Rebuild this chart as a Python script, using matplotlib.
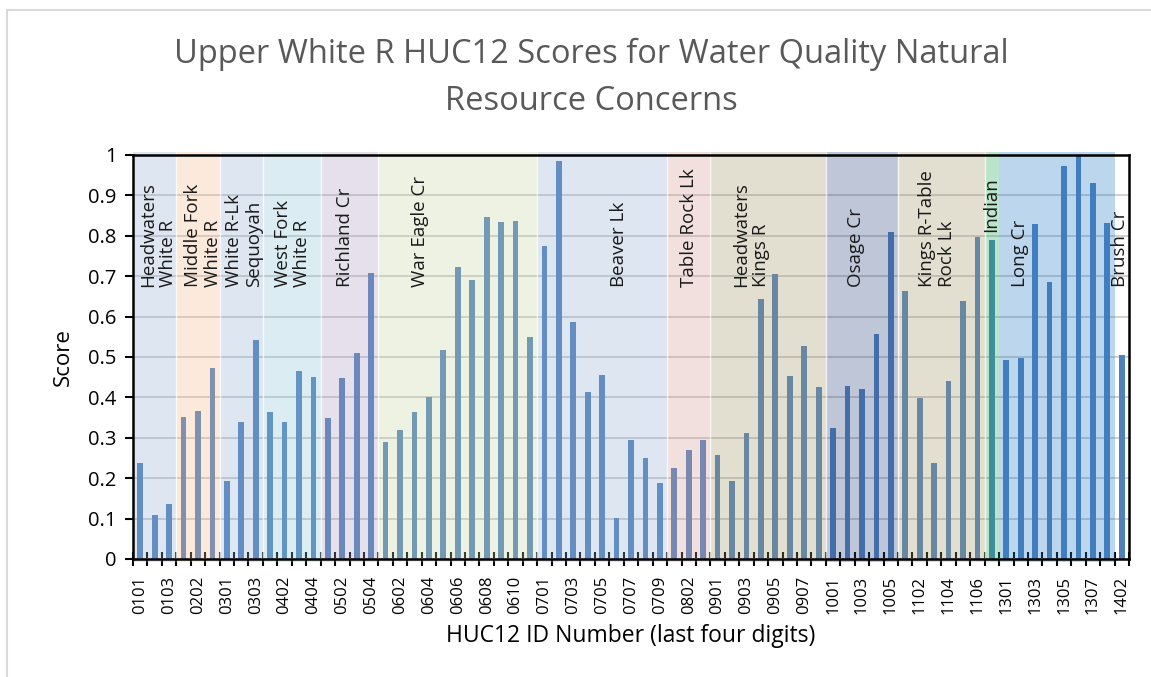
import matplotlib
matplotlib.use("Agg")
import matplotlib.pyplot as plt
import numpy as np
from matplotlib.patches import Rectangle
from matplotlib.colors import to_rgb

# ---------------- data ----------------
huc_ids = ["0101", "0102", "0103",
           "0201", "0202", "0203",
           "0301", "0302", "0303",
           "0401", "0402", "0403", "0404",
           "0501", "0502", "0503", "0504",
           "0601", "0602", "0603", "0604", "0605", "0606", "0607", "0608", "0609", "0610", "0611",
           "0701", "0702", "0703", "0704", "0705", "0706", "0707", "0708", "0709",
           "0801", "0802", "0803",
           "0901", "0902", "0903", "0904", "0905", "0906", "0907", "0908",
           "1001", "1002", "1003", "1004", "1005",
           "1101", "1102", "1103", "1104", "1105", "1106",
           "1201",
           "1301", "1302", "1303", "1304", "1305", "1306", "1307",
           "1401", "1402"]

scores = [0.237, 0.109, 0.136,
          0.352, 0.366, 0.472,
          0.193, 0.338, 0.541,
          0.363, 0.338, 0.465, 0.450,
          0.350, 0.448, 0.510, 0.708,
          0.290, 0.320, 0.365, 0.400, 0.517, 0.724, 0.691, 0.847, 0.835, 0.837, 0.550,
          0.774, 0.984, 0.587, 0.413, 0.455, 0.101, 0.294, 0.251, 0.188,
          0.226, 0.269, 0.295,
          0.257, 0.193, 0.312, 0.644, 0.706, 0.454, 0.527, 0.425,
          0.325, 0.427, 0.420, 0.557, 0.810,
          0.663, 0.399, 0.238, 0.441, 0.639, 0.798,
          0.789,
          0.493, 0.498, 0.828, 0.686, 0.974, 1.000, 0.930,
          0.832, 0.505]

group_names = ["Headwaters\nWhite R", "Middle Fork\nWhite R", "White R-Lk\nSequoyah",
               "West Fork\nWhite R", "Richland Cr", "War Eagle Cr", "Beaver Lk",
               "Table Rock Lk", "Headwaters\nKings R", "Osage Cr",
               "Kings R-Table\nRock Lk", "Indian", "Long Cr", "Brush Cr"]
group_sizes = [3, 3, 3, 4, 4, 11, 9, 3, 8, 5, 6, 1, 7, 2]

# ---------------- style ----------------
# visible background tint of each group's band (None = no band)
band_tints = ["#DFE7F2", "#FCEADC", "#DFE7F2", "#DCEEF3", "#E6E1EC", "#EEF2E3",
              "#DFE7F2", "#F3E1E0", "#E3E0D2", "#BFC7D8", "#E3E0D2", "#BCE6CB",
              "#BDD7EE", None]
band_extra = [0, 0, 0, 0, 0, 0, 0, 0, 0, 0, 0, 0, 1, 0]   # Long Cr band also covers 1401
label_x = [1.23, 4.34, 7.18, 10.56, 14.16, 19.35, 33.18, 38.02, 42.3, 49.6,
           55.2, 58.97, 60.98, 67.9]
label_y = [0.673] * 14
label_va = ["bottom"] * 14
label_y[11] = 0.945
label_va[11] = "top"

bar_color = "#4F81BD"
alpha = 0.30
FONT = "Open Sans"

plt.rcParams["font.family"] = [FONT, "DejaVu Sans"]

fig = plt.figure(figsize=(11.51, 6.77), dpi=100)
W, H = 1151, 677
# chart area frame
fig.patches.append(Rectangle((7 / W, -0.2), 1.5, 1.2 - 10 / H, transform=fig.transFigure,
                             fill=False, edgecolor="#D9D9D9", linewidth=1.5, zorder=0))

ax = fig.add_axes([133 / W, 1 - 559 / H, (1129 - 133) / W, (559 - 155) / H])
x = np.arange(len(huc_ids))

ax.set_axisbelow(True)
ax.yaxis.grid(True, color="#D0D0D0", linewidth=1.4, zorder=0)
ax.bar(x, scores, width=0.4, color=bar_color, zorder=2)

# translucent bands over the bars, with thin white gaps between them
start = 0
for i, (size, tint, extra) in enumerate(zip(group_sizes, band_tints, band_extra)):
    if tint is not None:
        rgb = np.array(to_rgb(tint))
        ov = np.clip((rgb - (1 - alpha)) / alpha, 0, 1)
        ax.add_patch(Rectangle((start - 0.5, -0.008), size + extra, 1.016,
                               facecolor=ov, alpha=alpha, edgecolor="none",
                               zorder=3, clip_on=False))
        if 0 < i < len(group_sizes) - 2:
            ax.plot([start - 0.5, start - 0.5], [0.003, 1.008], color="white",
                    linewidth=1.0, alpha=0.75, zorder=3.5, clip_on=False,
                    solid_capstyle="butt")
    start += size

for name, lx, ly, va in zip(group_names, label_x, label_y, label_va):
    ax.text(lx, ly, name, rotation=90, ha="center", va=va, fontsize=13.5,
            color="#1a1a1a", linespacing=1.12, multialignment="left", zorder=5)

ax.set_xlim(-0.5, len(huc_ids) - 0.5)
ax.set_ylim(0, 1)
ax.set_yticks(np.arange(0, 1.01, 0.1))
ax.set_yticklabels(["0", "0.1", "0.2", "0.3", "0.4", "0.5", "0.6", "0.7", "0.8", "0.9", "1"])
ax.set_xticks(x[::2])
ax.set_xticklabels(huc_ids[::2], rotation=90)
ax.set_xticks(np.arange(-0.5, len(huc_ids), 1.0), minor=True)
ax.tick_params(axis="x", which="major", length=0, pad=12, labelsize=12)
ax.tick_params(axis="x", which="minor", length=10, width=1.5, direction="inout", color="black")
ax.tick_params(axis="y", which="major", length=6, width=1.5, direction="out", labelsize=14.5, pad=6)

for s in ax.spines.values():
    s.set_color("black")
    s.set_linewidth(1.8)
    s.set_zorder(6)

ax.set_ylabel("Score", fontsize=16, labelpad=10)
ax.set_xlabel("HUC12 ID Number (last four digits)", fontsize=16.5, labelpad=7)

fig.text(591 / W, 1 - 54 / H, "Upper White R HUC12 Scores for Water Quality Natural",
         ha="center", va="center", fontsize=23.5, color="#595959")
fig.text(591 / W, 1 - 102 / H, "Resource Concerns",
         ha="center", va="center", fontsize=23.5, color="#595959")

fig.savefig("out.png", dpi=100)
